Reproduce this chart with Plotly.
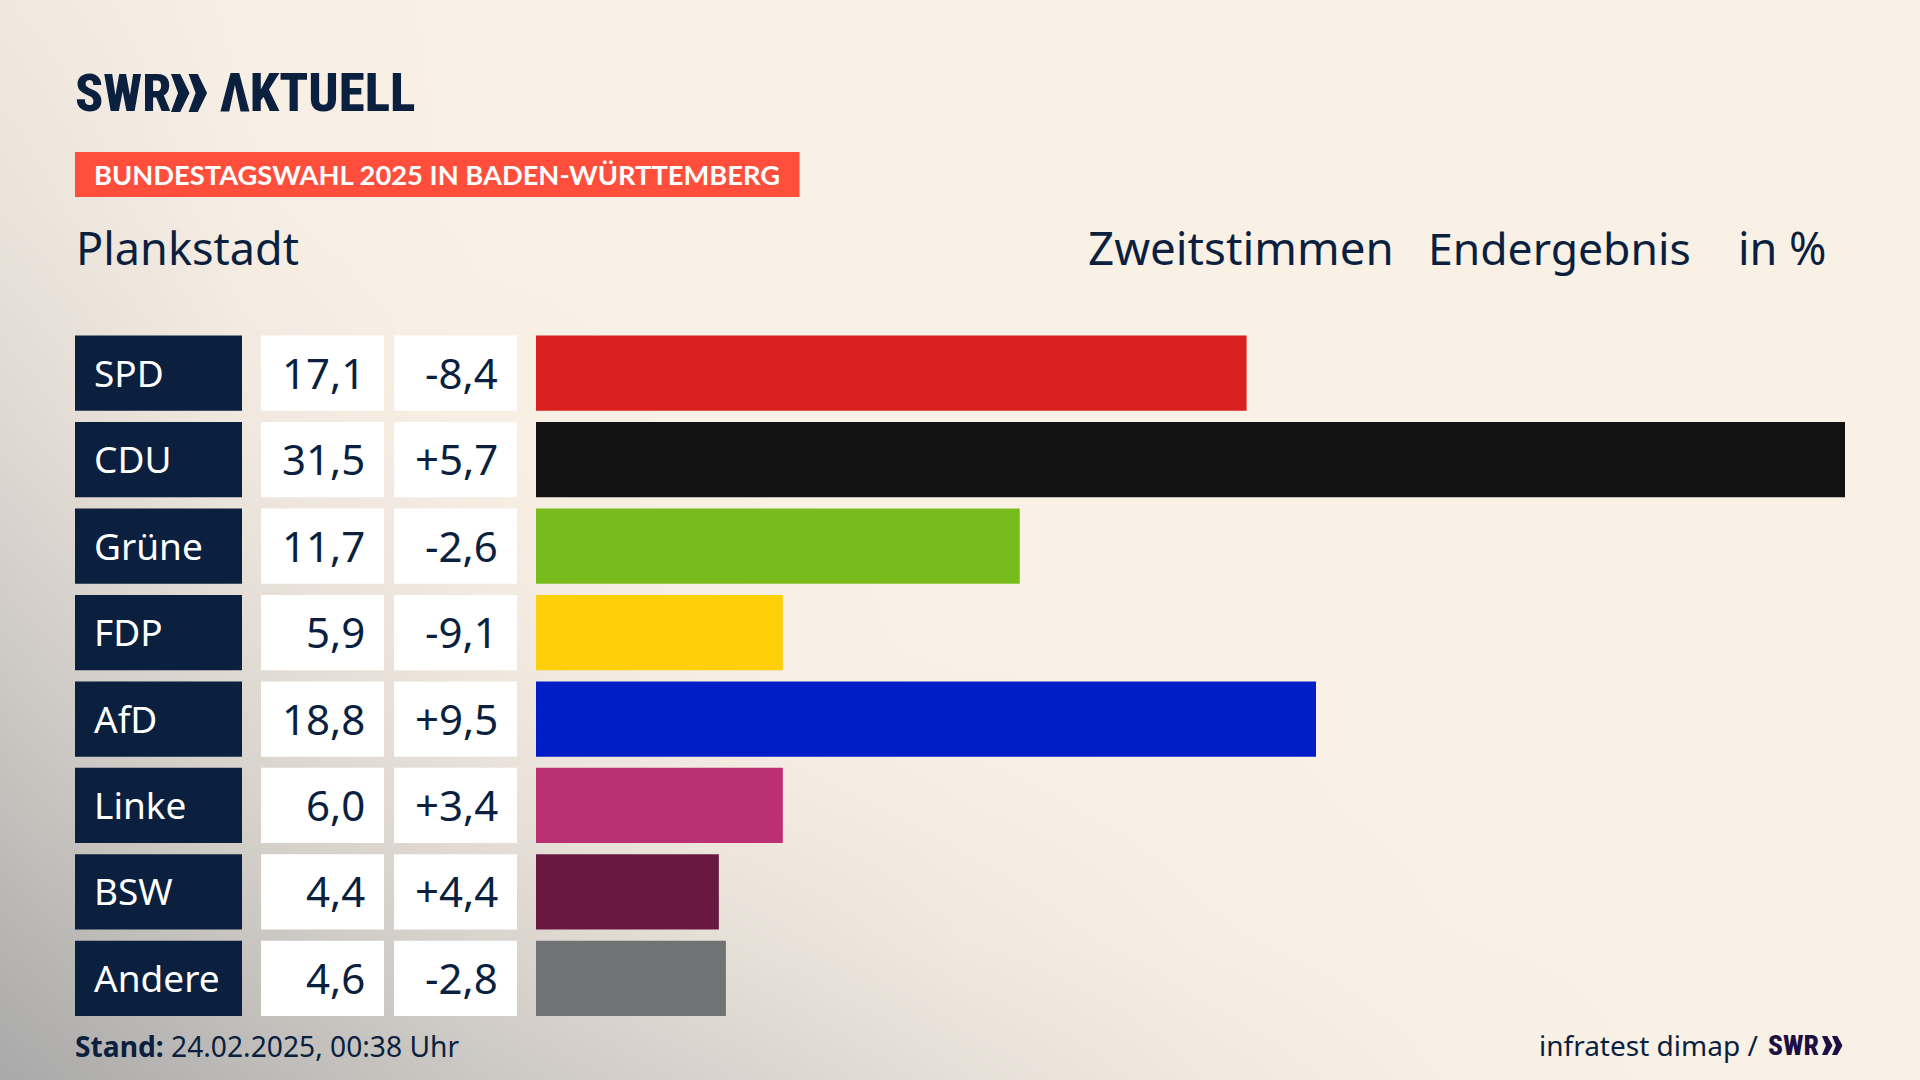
import plotly.graph_objects as go

# Zweitstimmen Plankstadt
parties = ['SPD', 'CDU', 'Grüne', 'FDP', 'AfD', 'Linke', 'BSW', 'Andere']
shares = [17.1, 31.5, 11.64, 5.94, 18.77, 5.94, 4.4, 4.57]
share_labels = ['17,1', '31,5', '11,7', '5,9', '18,8', '6,0', '4,4', '4,6']
change_labels = ['-8,4', '+5,7', '-2,6', '-9,1', '+9,5', '+3,4', '+4,4', '-2,8']
party_colors = ['#D8201F', '#121212', '#78BC1B', '#FFCF0A', '#001EC8', '#BB3073', '#69193F', '#717274']

# background shading, 0 = cream, 1 = grey (read by eye)
bg_x = [0, 240, 480, 720, 960, 1200, 1440, 1680, 1920]
bg_y = [0, 216, 432, 648, 810, 945, 1080]
bg_z = [
    [.12, .03, 0, 0, 0, 0, 0, 0, 0],
    [.20, .05, 0, 0, 0, 0, 0, 0, 0],
    [.35, .12, .03, 0, 0, 0, 0, 0, 0],
    [.55, .30, .12, .03, 0, 0, 0, 0, 0],
    [.70, .45, .25, .12, .06, .02, 0, 0, 0],
    [.85, .62, .42, .25, .12, .05, .01, 0, 0],
    [1, .78, .58, .42, .25, .12, .04, 0, 0],
]

NAVY = '#0B1F3F'
W, H = 1920, 1080
FONT = 'Noto Sans'
BANNER = 'Lato'
NARROW = "'Noto Sans ExtraCondensed','Noto Sans Condensed','Roboto Condensed','Open Sans Condensed','DejaVu Sans Condensed'"


def px(x):
    return x / W


def py(y):
    return 1 - y / H


fig = go.Figure()

fig.add_trace(go.Heatmap(
    x=bg_x, y=bg_y, z=bg_z, zmin=0, zmax=1, zsmooth='best', showscale=False, hoverinfo='skip',
    colorscale=[[0, '#FAF1E6'], [1, '#A9A9A9']],
))

fig.add_trace(go.Bar(
    x=shares, y=parties, orientation='h', xaxis='x2', yaxis='y2',
    marker=dict(color=party_colors, line=dict(width=0)),
    hoverinfo='skip',
))

# table cells left of the bars
half = 0.435
for i, party in enumerate(parties):
    for x0, x1, color in [(75, 242, NAVY), (261, 384, 'white'), (394, 517, 'white')]:
        fig.add_shape(type='rect', xref='paper', yref='y2', x0=px(x0), x1=px(x1), y0=i - half, y1=i + half,
                      fillcolor=color, line_width=0)
    fig.add_annotation(xref='paper', yref='y2', x=px(92), y=party, text=party, showarrow=False, xanchor='left',
                       yshift=1, font=dict(family=FONT, size=37, color='white'))
    fig.add_annotation(xref='paper', yref='y2', x=px(367), y=party, text=share_labels[i], showarrow=False,
                       xanchor='right', yshift=1, font=dict(family=FONT, size=42, color=NAVY))
    fig.add_annotation(xref='paper', yref='y2', x=px(500), y=party, text=change_labels[i], showarrow=False,
                       xanchor='right', yshift=1, font=dict(family=FONT, size=42, color=NAVY))


def text(x, y, s, size, color=NAVY, family=FONT, weight=None):
    fig.add_annotation(xref='paper', yref='paper', x=px(x), y=py(y), text=s, showarrow=False, xanchor='left',
                       yanchor='middle', font=dict(family=family, size=size, color=color, weight=weight))


def chevrons(x, y0, y1, w, color):
    # two chevrons of the SWR logo
    ym = (y0 + y1) / 2
    for dx in (0, w * 0.95):
        pts = [(x + dx, y0), (x + dx + w * .5, y0), (x + dx + w, ym), (x + dx + w * .5, y1), (x + dx, y1),
               (x + dx + w * .38, ym)]
        path = 'M ' + ' L '.join(f'{px(a):.5f} {py(b):.5f}' for a, b in pts) + ' Z'
        fig.add_shape(type='path', xref='paper', yref='paper', path=path, fillcolor=color, line_width=0)


# header
text(73, 93, 'SWR', 52, family=NARROW, weight=800)
chevrons(171, 74, 112, 18.5, NAVY)
text(218, 93, 'ΛKTUELL', 53, family=NARROW, weight=800)

fig.add_shape(type='rect', xref='paper', yref='paper', x0=px(75), x1=px(799.5), y0=py(152), y1=py(197),
              fillcolor='#FF4F3C', line_width=0)
text(91.5, 175, 'BUNDESTAGSWAHL 2025 IN BADEN-WÜRTTEMBERG', 27.3, color='white', family=BANNER, weight=700)

text(74, 247, 'Plankstadt', 45)
text(1086, 247, 'Zweitstimmen', 45.7)
text(1426, 247, 'Endergebnis', 44.5)
text(1736, 247, 'in %', 45)

# footer
text(73, 1046, '<b>Stand:</b> 24.02.2025, 00:38 Uhr', 28.2)
text(1537, 1045, 'infratest dimap /', 28)
text(1766, 1045, 'SWR', 27.5, color='#1E0F45', family=NARROW, weight=800)
chevrons(1822, 1036, 1055, 10.5, '#1E0F45')

fig.update_layout(
    width=W, height=H, margin=dict(l=0, r=0, t=0, b=0), showlegend=False,
    paper_bgcolor='#FAF1E6', plot_bgcolor='rgba(0,0,0,0)', bargap=0.13,
    xaxis=dict(domain=[0, 1], range=[0, W], visible=False, fixedrange=True),
    yaxis=dict(domain=[0, 1], range=[H, 0], visible=False, fixedrange=True),
    xaxis2=dict(domain=[px(536), px(1845)], range=[0, 31.5], visible=False, anchor='y2'),
    yaxis2=dict(domain=[py(1021.6), py(330)], range=[7.5, -0.5], type='category', categoryorder='array',
                categoryarray=parties, visible=False, anchor='x2'),
)

fig.write_html("out.html", config={'displayModeBar': False}, post_script="document.body.style.margin='0';")
